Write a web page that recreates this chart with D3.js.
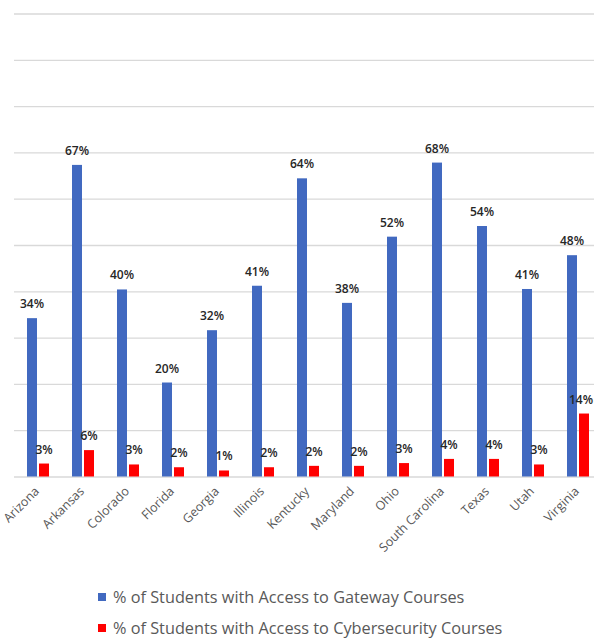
<!DOCTYPE html>
<html>
<head>
<meta charset="utf-8">
<script src="https://cdn.jsdelivr.net/npm/d3@7"></script>
<style>
  body { margin: 0; background: #fff; }
  svg { display: block; font-family: "Open Sans", Lato, sans-serif; }
</style>
</head>
<body>
<div id="chart"></div>
<script>
// DATA
var states = ["Arizona", "Arkansas", "Colorado", "Florida", "Georgia", "Illinois", "Kentucky",
  "Maryland", "Ohio", "South Carolina", "Texas", "Utah", "Virginia"];
var gateway = [34.2, 67.3, 40.4, 20.3, 31.6, 41.2, 64.4, 37.5, 51.8, 67.8, 54.1, 40.5, 47.8];
var cyber = [2.8, 5.7, 2.6, 2.0, 1.3, 2.0, 2.3, 2.3, 2.9, 3.8, 3.8, 2.6, 13.6];
var seriesNames = ["% of Students with Access to Gateway Courses",
  "% of Students with Access to Cybersecurity Courses"];
var yTicks = [0, 10, 20, 30, 40, 50, 60, 70, 80, 90, 100];

var width = 594;
var height = 638;
var colors = ["#4169c0", "#ff0000"];

var svg = d3.select("#chart").append("svg")
  .attr("width", width)
  .attr("height", height);

// scales
var x = d3.scaleBand()
  .domain(states)
  .range([15.5, 600.5]);
var y = d3.scaleLinear()
  .domain([0, 100])
  .range([476.5, 13.5]);

// gridlines (no tick labels in the original)
var yAxis = d3.axisLeft(y).tickValues(yTicks).tickSize(-(width - 14)).tickFormat("");
svg.append("g")
  .attr("transform", "translate(14,0)")
  .call(yAxis)
  .call(function(g) { g.select(".domain").remove(); })
  .selectAll("line")
  .attr("stroke", "#d9d9d9")
  .attr("stroke-width", 1.3);

var barW = 10;
var series = [gateway, cyber];

// bars
series.forEach(function(vals, s) {
  var offset = s == 0 ? -11 : 1;
  svg.append("g").selectAll("rect").data(vals)
    .enter().append("rect")
    .attr("x", function(d, i) { return x(states[i]) + x.bandwidth() / 2 + offset; })
    .attr("y", function(d) { return y(d); })
    .attr("width", barW)
    .attr("height", function(d) { return y(0) - y(d); })
    .style("fill", colors[s]);
});

// value labels
series.forEach(function(vals, s) {
  var offset = s == 0 ? -6 : 6;
  svg.append("g").selectAll("text").data(vals)
    .enter().append("text")
    .attr("x", function(d, i) { return x(states[i]) + x.bandwidth() / 2 + offset; })
    .attr("y", function(d) { return y(d) - 10; })
    .attr("text-anchor", "middle")
    .style("font-size", "12px")
    .style("font-weight", "600")
    .style("fill", "#262626")
    .text(function(d) { return Math.round(d) + "%"; })
    .each(function() {
      // keep labels inside the picture
      var b = this.getBBox();
      if (b.x + b.width > width - 1) d3.select(this).attr("x", width - 1 - b.width / 2);
    });
});

// category labels, rotated
svg.append("g").selectAll("text").data(states)
  .enter().append("text")
  .attr("transform", function(d) {
    return "translate(" + (x(d) + x.bandwidth() / 2 + 2) + ",492) rotate(-45)";
  })
  .attr("text-anchor", "end")
  .style("font-size", "12.5px")
  .style("fill", "#595959")
  .text(function(d) { return d; });

// legend
var legend = svg.append("g").selectAll("g").data(seriesNames)
  .enter().append("g")
  .attr("transform", function(d, i) { return "translate(98," + (597 + i * 31) + ")"; });
legend.append("rect")
  .attr("x", 0)
  .attr("y", -4)
  .attr("width", 8)
  .attr("height", 8)
  .style("fill", function(d, i) { return colors[i]; });
legend.append("text")
  .attr("x", 15)
  .attr("y", 5.5)
  .style("font-size", "16.3px")
  .style("fill", "#595959")
  .text(function(d) { return d; });
</script>
</body>
</html>
